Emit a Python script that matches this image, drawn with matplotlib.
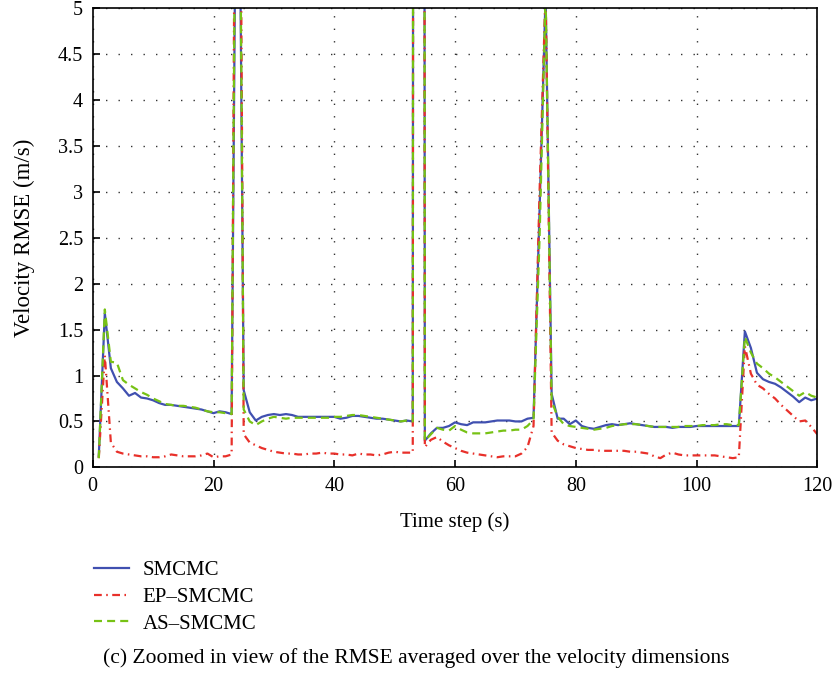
import numpy as np
import matplotlib
matplotlib.use("Agg")
import matplotlib.pyplot as plt

plt.rcParams['font.family'] = ['Liberation Serif', 'DejaVu Serif']

# time steps 1..120
t = np.arange(1, 121)

smcmc = [
    0.12, 1.68, 1.08, 0.93, 0.86, 0.78, 0.81, 0.76, 0.75, 0.73,
    0.70, 0.68, 0.68, 0.67, 0.66, 0.65, 0.64, 0.63, 0.61, 0.59,
    0.61, 0.60, 0.58, 9.0, 0.84, 0.60, 0.51, 0.55, 0.57, 0.58,
    0.57, 0.58, 0.57, 0.55, 0.55, 0.55, 0.55, 0.55, 0.55, 0.55,
    0.53, 0.54, 0.56, 0.56, 0.55, 0.54, 0.53, 0.53, 0.52, 0.51,
    0.50, 0.51, 0.50, 100.0, 0.29, 0.37, 0.43, 0.43, 0.45, 0.49,
    0.47, 0.46, 0.49, 0.49, 0.49, 0.50, 0.51, 0.51, 0.51, 0.50,
    0.50, 0.53, 0.54, 2.8, 5.15, 0.80, 0.53, 0.53, 0.47, 0.51,
    0.45, 0.43, 0.42, 0.44, 0.46, 0.47, 0.46, 0.47, 0.48, 0.47,
    0.46, 0.45, 0.44, 0.44, 0.44, 0.43, 0.44, 0.44, 0.44, 0.45,
    0.45, 0.45, 0.45, 0.45, 0.45, 0.45, 0.45, 1.48, 1.30, 1.03,
    0.96, 0.93, 0.91, 0.87, 0.82, 0.77, 0.71, 0.76, 0.73, 0.75,
]

ep_smcmc = [
    0.10, 1.22, 0.27, 0.17, 0.15, 0.14, 0.13, 0.12, 0.12, 0.11,
    0.11, 0.12, 0.14, 0.13, 0.12, 0.12, 0.12, 0.13, 0.15, 0.11,
    0.12, 0.12, 0.14, 12.0, 0.36, 0.27, 0.24, 0.21, 0.19, 0.17,
    0.16, 0.15, 0.15, 0.14, 0.14, 0.15, 0.15, 0.16, 0.15, 0.15,
    0.14, 0.14, 0.13, 0.15, 0.14, 0.14, 0.13, 0.14, 0.16, 0.17,
    0.16, 0.16, 0.16, 100.0, 0.22, 0.30, 0.33, 0.28, 0.24, 0.21,
    0.18, 0.16, 0.15, 0.14, 0.13, 0.12, 0.11, 0.12, 0.12, 0.12,
    0.15, 0.22, 0.45, 3.0, 5.2, 0.38, 0.29, 0.25, 0.23, 0.21,
    0.20, 0.19, 0.19, 0.18, 0.18, 0.18, 0.18, 0.18, 0.17, 0.17,
    0.16, 0.15, 0.12, 0.10, 0.14, 0.16, 0.14, 0.13, 0.13, 0.13,
    0.13, 0.13, 0.13, 0.12, 0.11, 0.10, 0.11, 1.32, 1.02, 0.90,
    0.86, 0.80, 0.75, 0.68, 0.62, 0.56, 0.50, 0.51, 0.44, 0.36,
]

as_smcmc = [
    0.10, 1.72, 1.15, 1.14, 0.95, 0.90, 0.86, 0.82, 0.79, 0.75,
    0.72, 0.69, 0.68, 0.67, 0.67, 0.66, 0.65, 0.63, 0.61, 0.60,
    0.60, 0.59, 0.58, 10.0, 0.63, 0.50, 0.46, 0.50, 0.53, 0.55,
    0.54, 0.53, 0.54, 0.54, 0.54, 0.54, 0.54, 0.54, 0.54, 0.55,
    0.55, 0.56, 0.57, 0.57, 0.56, 0.55, 0.54, 0.53, 0.52, 0.51,
    0.50, 0.51, 0.50, 100.0, 0.29, 0.36, 0.43, 0.41, 0.40, 0.45,
    0.41, 0.38, 0.37, 0.37, 0.37, 0.38, 0.39, 0.40, 0.40, 0.41,
    0.41, 0.45, 0.52, 2.5, 5.15, 0.72, 0.55, 0.47, 0.45, 0.44,
    0.43, 0.42, 0.41, 0.42, 0.43, 0.45, 0.46, 0.47, 0.47, 0.47,
    0.46, 0.45, 0.44, 0.44, 0.44, 0.44, 0.44, 0.45, 0.45, 0.45,
    0.46, 0.46, 0.46, 0.47, 0.47, 0.46, 0.46, 1.42, 1.25, 1.13,
    1.08, 1.02, 0.98, 0.93, 0.88, 0.83, 0.78, 0.82, 0.78, 0.76,
]

fig = plt.figure(figsize=(8.34, 6.77), dpi=100)
ax = fig.add_axes([0.1112, 0.3097, 0.8688, 0.678])

ax.plot(t, smcmc, color="#4050B0", lw=1.6, label="SMCMC")
ax.plot(t, ep_smcmc, color="#E8302A", lw=1.6, ls=(0, (3.5, 2, 0.7, 2)), label="EP\u2013SMCMC")
ax.plot(t, as_smcmc, color="#77C215", lw=1.6, ls=(0, (3.6, 2.3)), label="AS\u2013SMCMC")

ax.set_xlim(0, 120)
ax.set_ylim(0, 5)
ax.set_xticks(np.arange(0, 121, 20))
yt = np.arange(0, 5.01, 0.5)
ax.set_yticks(yt)
ax.set_yticklabels(["%g" % v for v in yt])
ax.tick_params(direction="in", labelsize=14.5, length=5, width=1.2, pad=7)
ax.grid(True, ls=(0, (1, 8)), color="#333333", lw=1.0)
for s in ax.spines.values():
    s.set_linewidth(1.2)

ax.set_xlabel("Time step (s)", fontsize=15)
ax.set_ylabel("Velocity RMSE (m/s)", fontsize=16.5)
ax.xaxis.set_label_coords(0.5, -0.098)
ax.yaxis.set_label_coords(-0.079, 0.5)

fig.legend(loc="upper left", bbox_to_anchor=(0.09, 0.2), frameon=False,
           fontsize=15, handlelength=1.7, labelspacing=0.35, handletextpad=0.65)

fig.text(0.499, 0.028, "(c) Zoomed in view of the RMSE averaged over the velocity dimensions",
         ha="center", va="center", fontsize=15.5)

fig.savefig("out.png", dpi=100)
